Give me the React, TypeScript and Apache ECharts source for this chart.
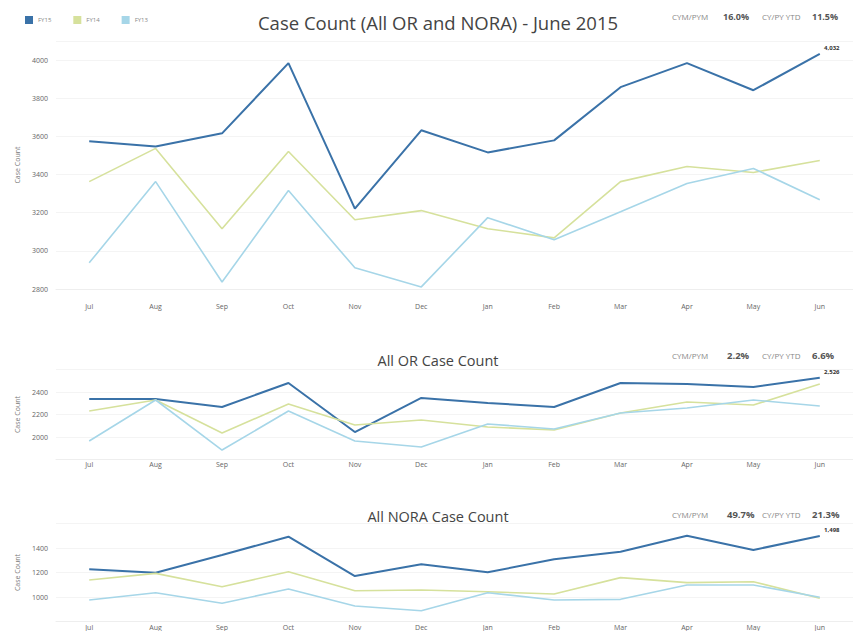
import React, { useEffect, useRef } from "react";
import * as echarts from "echarts";

const months = ["Jul", "Aug", "Sep", "Oct", "Nov", "Dec", "Jan", "Feb", "Mar", "Apr", "May", "Jun"];
const seriesNames = ["FY15", "FY14", "FY13"];
const colors = ["#3a72a8", "#d6e19c", "#a6d6e8"];

// Case Count (All OR and NORA)
const totalFY15 = [3574, 3547, 3616, 3984, 3221, 3632, 3516, 3579, 3858, 3984, 3842, 4032];
const totalFY14 = [3363, 3537, 3116, 3521, 3163, 3211, 3116, 3068, 3363, 3442, 3411, 3474];
const totalFY13 = [2937, 3363, 2837, 3316, 2911, 2811, 3174, 3058, 3205, 3353, 3432, 3268];

// All OR Case Count
const orFY15 = [2338, 2338, 2267, 2480, 2044, 2347, 2302, 2267, 2480, 2471, 2444, 2526];
const orFY14 = [2231, 2329, 2036, 2293, 2107, 2151, 2089, 2062, 2213, 2311, 2284, 2471];
const orFY13 = [1964, 2329, 1884, 2231, 1964, 1911, 2116, 2071, 2213, 2258, 2329, 2276];

// All NORA Case Count
const noraFY15 = [1226, 1198, 1343, 1492, 1171, 1267, 1202, 1308, 1370, 1500, 1384, 1498];
const noraFY14 = [1139, 1193, 1084, 1206, 1051, 1057, 1043, 1024, 1158, 1117, 1125, 989];
const noraFY13 = [976, 1035, 949, 1065, 927, 888, 1035, 976, 981, 1098, 1098, 998];

const titles = ["Case Count (All OR and NORA) - June 2015", "All OR Case Count", "All NORA Case Count"];
const cymPym = ["16.0%", "2.2%", "49.7%"];
const cyPyYtd = ["11.5%", "6.6%", "21.3%"];

const FONT = "'Open Sans', 'Noto Sans', sans-serif";

export default function App() {
  const ref = useRef<HTMLDivElement>(null);
  useEffect(() => {
    if (!ref.current) return;
    const chart = echarts.init(ref.current, undefined, { renderer: "svg" });

    const panels = [
      { data: [totalFY15, totalFY14, totalFY13], top: 41, height: 248, min: 2800, max: 4100, margin: 14, titleTop: 8, titleSize: 18.5, statY: 17, statSize: 9 },
      { data: [orFY15, orFY14, orFY13], top: 369.5, height: 90, min: 1800, max: 2600, margin: 1, titleTop: 348, titleSize: 14.5, statY: 356, statSize: 9.5 },
      { data: [noraFY15, noraFY14, noraFY13], top: 523.5, height: 98, min: 800, max: 1600, margin: 2, titleTop: 504, titleSize: 14.5, statY: 515, statSize: 9.5 },
    ];

    const grid = panels.map((p) => ({ left: 56, width: 799, top: p.top, height: p.height }));
    const xAxis = panels.map((p, i) => ({
      type: "category",
      gridIndex: i,
      data: months,
      boundaryGap: true,
      axisLine: { show: true, lineStyle: { color: "#eeeeee" } },
      axisTick: { show: false },
      axisLabel: { fontSize: 7, color: "#666666", margin: p.margin, fontFamily: FONT },
      splitLine: { show: false },
    }));
    const yAxis = panels.map((p, i) => ({
      type: "value",
      gridIndex: i,
      min: p.min,
      max: p.max,
      interval: 200,
      name: "Case Count",
      nameLocation: "middle",
      nameRotate: 90,
      nameGap: 32,
      nameTextStyle: { fontSize: 7, color: "#777", fontFamily: FONT },
      axisLine: { show: false },
      axisTick: { show: false },
      axisLabel: {
        fontSize: 7,
        color: "#666",
        margin: 8,
        fontFamily: FONT,
        showMinLabel: i === 0,
        showMaxLabel: false,
        formatter: (v: number) => String(v),
      },
      splitLine: { show: true, lineStyle: { color: "#f4f4f4" } },
    }));

    const series: any[] = [];
    panels.forEach((p, gi) => {
      p.data.forEach((arr, si) => {
        series.push({
          type: "line",
          name: seriesNames[si],
          xAxisIndex: gi,
          yAxisIndex: gi,
          symbol: "circle",
          symbolSize: 0,
          showSymbol: true,
          color: colors[si],
          lineStyle: { color: colors[si], width: si === 0 ? 2 : 1.6 },
          data: arr.map((v, k) =>
            si === 0 && k === arr.length - 1
              ? {
                  value: v,
                  label: {
                    show: true,
                    position: "top",
                    offset: [12, 2],
                    fontSize: 6,
                    fontWeight: "bold",
                    color: "#333",
                    fontFamily: FONT,
                    formatter: (d: any) => Number(d.value).toLocaleString("en-US"),
                  },
                }
              : v
          ),
        });
      });
    });

    const graphic: any[] = [];
    panels.forEach((p, i) => {
      const small = { fontSize: 8, fill: "#888", fontFamily: FONT };
      const big = { fontSize: p.statSize, fill: "#555", fontWeight: "bold", fontFamily: FONT };
      graphic.push({ type: "text", left: 672, top: p.statY - 5, style: { text: "CYM/PYM", ...small } });
      graphic.push({ type: "text", left: i === 0 ? 723 : 727, top: p.statY - p.statSize / 2 - 1, style: { text: cymPym[i], ...big } });
      graphic.push({ type: "text", left: 762, top: p.statY - 5, style: { text: "CY/PY YTD", ...small } });
      graphic.push({ type: "text", left: 812, top: p.statY - p.statSize / 2 - 1, style: { text: cyPyYtd[i], ...big } });
    });

    chart.setOption({
      animation: false,
      backgroundColor: "#ffffff",
      textStyle: { fontFamily: FONT },
      title: panels.map((p, i) => ({
        text: titles[i],
        left: 433,
        top: p.titleTop,
        textAlign: "center",
        textStyle: { fontSize: p.titleSize, fontWeight: "normal", color: "#444", fontFamily: FONT },
      })),
      legend: {
        data: seriesNames,
        left: 20,
        top: 11,
        icon: "rect",
        itemWidth: 8,
        itemHeight: 8,
        itemGap: 22,
        textStyle: { fontSize: 6, color: "#888", fontFamily: FONT },
      },
      grid,
      xAxis,
      yAxis,
      series,
      graphic,
    });
    return () => chart.dispose();
  }, []);
  return <div ref={ref} style={{ width: 853, height: 631, position: "fixed", left: 0, top: 0 }} />;
}
